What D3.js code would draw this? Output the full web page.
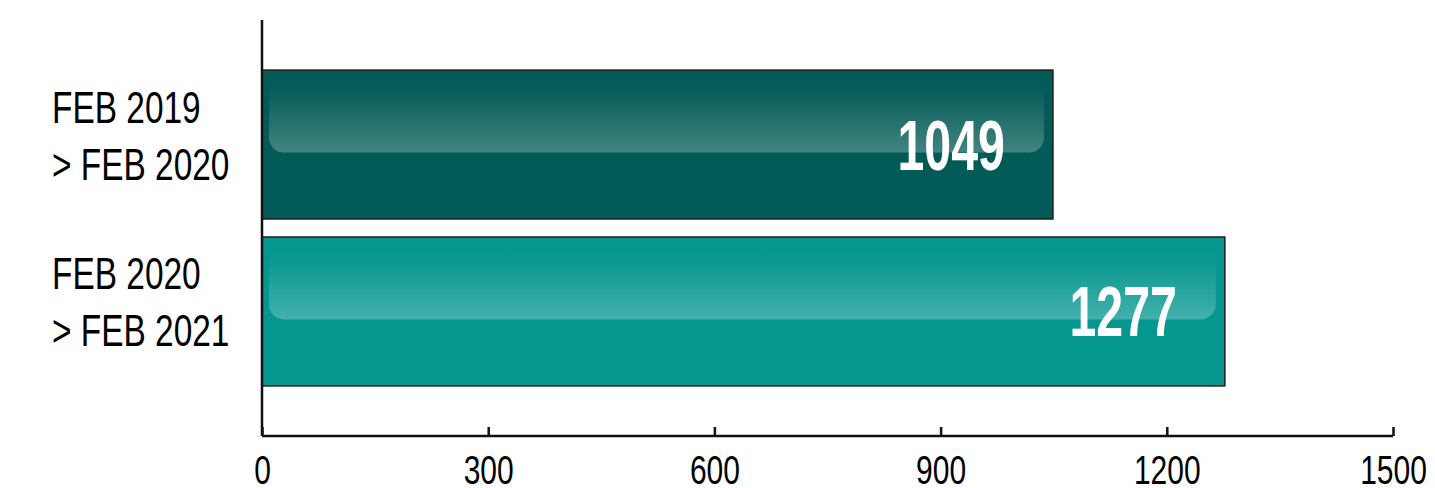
<!DOCTYPE html>
<html>
<head>
<meta charset="utf-8">
<script src="https://cdn.jsdelivr.net/npm/d3@7"></script>
<style>
  body { margin: 0; background: #fff; }
  svg { display: block; }
  text { font-family: "Liberation Sans", Arial, sans-serif; }
</style>
</head>
<body>
<main></main>
<script>
const categories = [["FEB 2019", "> FEB 2020"], ["FEB 2020", "> FEB 2021"]];
const values = [1049, 1277];
const barColors = ["#035b57", "#04968f"];
const xTicks = [0, 300, 600, 900, 1200, 1500];

const W = 1435, H = 488;
const margin = { top: 20, right: 42, bottom: 52, left: 262 };
const width = W - margin.left - margin.right;
const height = H - margin.top - margin.bottom;

const svg = d3.select("main")
  .append("svg")
  .attr("width", W)
  .attr("height", H);

// gloss gradient on the upper half of each bar
const defs = svg.append("defs");
const grad = defs.append("linearGradient")
  .attr("id", "gloss")
  .attr("x1", 0).attr("y1", 0).attr("x2", 0).attr("y2", 1);
grad.append("stop").attr("offset", "0%").attr("stop-color", "#fff").attr("stop-opacity", 0);
grad.append("stop").attr("offset", "20%").attr("stop-color", "#fff").attr("stop-opacity", 0.02);
grad.append("stop").attr("offset", "100%").attr("stop-color", "#fff").attr("stop-opacity", 0.25);

const g = svg.append("g")
  .attr("transform", "translate(" + margin.left + "," + margin.top + ")");

const x = d3.scaleLinear().domain([0, 1500]).range([0, width]);
const y = d3.scaleBand()
  .domain(d3.range(values.length))
  .range([0, height])
  .paddingInner(0.108)
  .paddingOuter(0.3);

// bars
const bars = g.selectAll(".bar")
  .data(values)
  .enter()
  .append("g")
  .attr("class", "bar");

bars.append("rect")
  .attr("x", 0)
  .attr("y", (d, i) => y(i))
  .attr("width", d => x(d))
  .attr("height", y.bandwidth())
  .attr("fill", (d, i) => barColors[i])
  .attr("stroke", "#1d1d1d")
  .attr("stroke-width", 1.5);

bars.append("rect")
  .attr("x", 7)
  .attr("y", (d, i) => y(i) + 8)
  .attr("width", d => x(d) - 16)
  .attr("height", y.bandwidth() * 0.5)
  .attr("rx", 15)
  .attr("fill", "url(#gloss)");

bars.append("text")
  .attr("transform", (d, i) => "translate(" + (x(d) - 48) + "," + (y(i) + y.bandwidth() / 2 + 25) + ") scale(0.69,1)")
  .attr("text-anchor", "end")
  .attr("fill", "#fff")
  .style("font-weight", "bold")
  .style("font-size", "70px")
  .text(d => d);

// axes
const xAxis = d3.axisBottom(x)
  .tickValues(xTicks)
  .tickSize(0)
  .tickPadding(0)
  .tickFormat(d3.format("d"));

const xg = g.append("g")
  .attr("transform", "translate(0," + height + ")")
  .call(xAxis);
xg.select(".domain").remove();
xg.selectAll(".tick text")
  .attr("y", 48)
  .attr("dy", 0)
  .attr("fill", "#000")
  .style("font-size", "40px")
  .attr("transform", "scale(0.75,1)");
xg.selectAll(".tick line")
  .attr("y1", -9)
  .attr("y2", 0)
  .attr("stroke", "#111")
  .attr("stroke-width", 2.5);
xg.append("line")
  .attr("x1", 0).attr("x2", x(1500))
  .attr("stroke", "#111")
  .attr("stroke-width", 2.5);

g.append("line")
  .attr("x1", 0).attr("x2", 0)
  .attr("y1", 0).attr("y2", height)
  .attr("stroke", "#111")
  .attr("stroke-width", 2.5);

// category labels, two lines each
const labels = svg.selectAll(".cat")
  .data(categories)
  .enter()
  .append("text")
  .attr("class", "cat")
  .attr("transform", (d, i) => "translate(52," + (margin.top + y(i) + y.bandwidth() / 2 - 22) + ") scale(0.76,1)")
  .attr("fill", "#000")
  .style("font-size", "44px");

labels.selectAll("tspan")
  .data(d => d)
  .enter()
  .append("tspan")
  .attr("x", 0)
  .attr("y", (d, i) => i * 57)
  .text(d => d);
</script>
</body>
</html>
